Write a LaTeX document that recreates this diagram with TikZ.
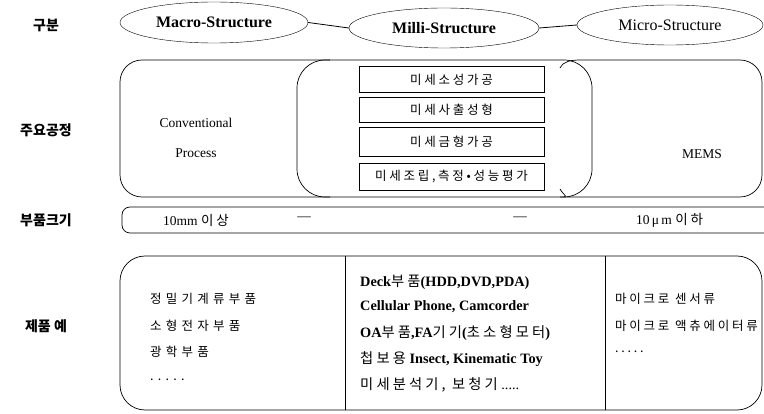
\documentclass[tikz,border=0pt]{standalone}
\usepackage{fontspec}
\setmainfont{Liberation Serif}
\newfontfamily\kr{Noto Sans CJK KR}
\newfontfamily\krs[LetterSpace=22]{Noto Sans CJK KR}
\newfontfamily\krw[LetterSpace=34]{Noto Sans CJK KR}
\usetikzlibrary{shapes.geometric}
\begin{document}
\begin{tikzpicture}[x=1pt,y=-1pt,
  rowlbl/.style={font=\kr\bfseries\fontsize{14}{16}\selectfont},
  ell/.style={ellipse,draw,minimum width=190,minimum height=40,inner sep=0pt},
  etxt/.style={font=\fontsize{16}{18}\selectfont},
  pbox/.style={draw,minimum width=185,inner sep=0pt,font=\krs\fontsize{12.5}{14}\selectfont},
  serif/.style={font=\fontsize{13.5}{15}\selectfont},
  coltxt/.style={anchor=west,inner sep=0pt,font=\krw\fontsize{12.5}{14}\selectfont},
  midtxt/.style={anchor=west,inner sep=0pt,font=\fontsize{14.3}{16}\selectfont},
  frame/.style={draw,line width=0.7pt}]
\useasboundingbox (0,0) rectangle (764,414);
% row labels
\node[rowlbl] (l1) at (46,25) {구분};
\node[rowlbl] (l2) at (46,130) {주요공정};
\node[rowlbl] (l3) at (46,220) {부품크기};
\node[rowlbl] (l4) at (46,326) {제품 예};
% ellipses
\node[ell,etxt,minimum width=188,minimum height=41] (macro) at (214,22.5) {\bfseries Macro-Structure};
\node[ell,etxt] (milli) at (444,28) {\bfseries Milli-Structure};
\node[ell,etxt,minimum width=186] (micro) at (670,25) {Micro-Structure};
\draw[line width=0.8pt] (macro.east) -- (milli.west);
\draw[line width=0.8pt] (milli.east) -- (micro.west);
% process row
\draw[frame,rounded corners=22] (330,60) -- (120,60) -- (120,197) -- (330,197);
\draw[frame] (560,68) .. controls (564,61) and (570,60) .. (582,60)
  [rounded corners=22] -- (762,60) -- (762,197) -- (582,197)
  [sharp corners] .. controls (570,197) and (564,196) .. (560,189);
\draw[frame,rounded corners=28] (297,60) rectangle (592,197);
\node[serif] (conv) at (196,123) {Conventional};
\node[serif] (proc) at (196,153) {Process};
\node[serif] (mems) at (702,154) {MEMS};
\node[pbox,minimum height=26] (p1) at (451.5,79.5) {미세소성가공};
\node[pbox,minimum height=25] (p2) at (451.5,109.5) {미세사출성형};
\node[pbox,minimum height=29] (p3) at (451.5,142) {미세금형가공};
\node[pbox,minimum height=27] (p4) at (451.5,176.5) {미세조립,측정•성능평가};
% size row
\draw[frame,rounded corners=8] (764,207) -- (122,207) -- (122,233) -- (764,233);
\node[serif,anchor=west,inner sep=0pt] (s1) at (163,220) {10mm {\krs 이상}};
\node[serif] (d1) at (304,219) {—};
\node[serif] (d2) at (520,219) {—};
\node[serif,anchor=west,inner sep=0pt] (s2) at (636,220) {10\,μ\,m {\krs 이하}};
% products row
\draw[frame,rounded corners=25] (120,256) rectangle (762,410);
\draw[frame] (345,256) -- (345,410);
\draw[frame] (605,256) -- (605,410);
\node[coltxt] (a1) at (150,299) {정밀기계류부품};
\node[coltxt] (a2) at (150,326) {소형전자부품};
\node[coltxt] (a3) at (150,352) {광학부품};
\node[coltxt] (a4) at (150,380) {.....};
\node[midtxt] (b1) at (360,282) {\bfseries Deck{\krs\mdseries 부품}(HDD,DVD,PDA)};
\node[midtxt] (b2) at (360,307) {\bfseries Cellular Phone, Camcorder};
\node[midtxt] (b3) at (360,333) {\bfseries OA{\krs\mdseries 부품},FA{\krs\mdseries 기기}({\krs\mdseries 초소형모터})};
\node[midtxt] (b4) at (360,359) {{\krs 첩보용} \bfseries Insect, Kinematic Toy};
\node[midtxt] (b5) at (360,385) {{\krs 미세분석기, 보청기} .....};
\node[coltxt,font=\krs\fontsize{12.5}{14}\selectfont] (c1) at (615,299) {마이크로 센서류};
\node[coltxt,font=\krs\fontsize{12.5}{14}\selectfont] (c2) at (615,326) {마이크로 액츄에이터류};
\node[coltxt,font=\krs\fontsize{12.5}{14}\selectfont] (c3) at (615,352) {.....};
\end{tikzpicture}
\end{document}
